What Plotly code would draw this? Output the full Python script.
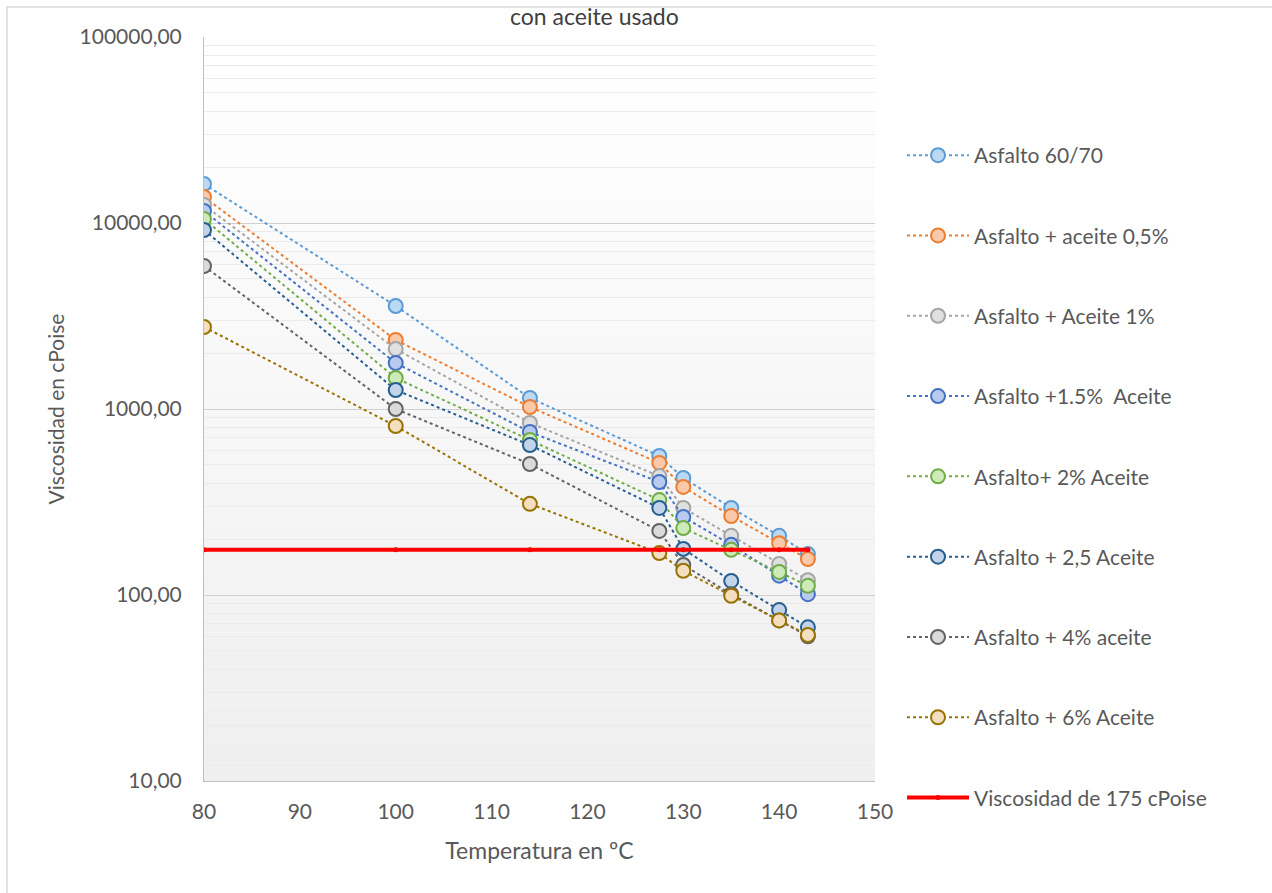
import plotly.graph_objects as go

temps = [80, 100, 114, 127.5, 130, 135, 140, 143]

series_names = [
    "Asfalto 60/70",
    "Asfalto + aceite 0,5%",
    "Asfalto + Aceite 1%",
    "Asfalto +1.5%  Aceite",
    "Asfalto+ 2% Aceite",
    "Asfalto + 2,5 Aceite",
    "Asfalto + 4% aceite",
    "Asfalto + 6% Aceite",
]

asfalto_6070 = [16200, 3580, 1146, 559, 426, 294, 208, 166]
aceite_05 = [13800, 2350, 1025, 513, 381, 266, 190, 156]
aceite_1 = [12500, 2100, 841, 436, 294, 208, 147, 120]
aceite_15 = [11600, 1767, 752, 405, 263, 186, 127, 101]
aceite_2 = [10500, 1468, 681, 324, 229, 175, 133, 112]
aceite_25 = [9170, 1265, 640, 294, 177, 119, 83, 67]
aceite_4 = [5870, 1000, 506, 221, 145, 101, 73, 60]
aceite_6 = [2760, 810, 309, 168, 135, 99, 73, 61]

limit_name = "Viscosidad de 175 cPoise"
limit_value = [175, 175, 175, 175, 175, 175, 175, 175]

all_series = [asfalto_6070, aceite_05, aceite_1, aceite_15, aceite_2, aceite_25, aceite_4, aceite_6]

line_colors = ["#5b9bd5", "#ed7d31", "#a5a5a5", "#4472c4", "#70ad47", "#255e91", "#636363", "#997300"]
fill_colors = ["#bcd9f3", "#f9c9a9", "#e0e0e0", "#b8cbef", "#cdeab8", "#c3d4ea", "#dadada", "#f3dfbf"]

FONT = "Lato"
TXT = "#595959"

fig = go.Figure()

for i, (name, vals) in enumerate(zip(series_names, all_series)):
    fig.add_trace(go.Scatter(
        x=temps, y=vals, name=name, mode="lines+markers",
        legendgroup=f"g{i}",
        line=dict(color=line_colors[i], width=2, dash="dot"),
        marker=dict(size=14, color=fill_colors[i], line=dict(color=line_colors[i], width=2)),
    ))

fig.add_trace(go.Scatter(
    x=temps, y=limit_value, name=limit_name, mode="lines+markers",
    legendgroup="g8",
    line=dict(color="#ff0000", width=4),
    marker=dict(size=5, color="#ff0000"),
))

# gradient plot background (style only)
shapes = []
nb = 40
for k in range(nb):
    t = k / (nb - 1)
    c = int(round(255 - 16 * t))
    shapes.append(dict(type="rect", xref="x domain", yref="y domain",
                       x0=0, x1=1, y0=1 - (k + 1) / nb, y1=1 - k / nb,
                       fillcolor=f"rgb({c},{c},{c})", line=dict(width=0), layer="below"))
# outer chart border (only left and top edges fall inside the picture)
shapes.append(dict(type="rect", xref="paper", yref="paper",
                   x0=(7 - 204) / 671, x1=1 + (1290 - 875) / 671,
                   y0=-(140) / 744, y1=1 + 30 / 744,
                   line=dict(color="#d9d9d9", width=1.5), fillcolor="rgba(0,0,0,0)", layer="below"))

fig.update_layout(
    width=1272, height=893,
    margin=dict(l=204, r=397, t=37, b=112),
    paper_bgcolor="white",
    plot_bgcolor="rgba(0,0,0,0)",
    separators=",.",
    font=dict(family=FONT, color=TXT, size=18),
    showlegend=True,
    legend=dict(x=1 + 27 / 671, xanchor="left", y=1 - (135 - 37) / 744, yanchor="top",
                font=dict(family=FONT, size=21, color=TXT),
                tracegroupgap=50, itemwidth=62, bgcolor="rgba(0,0,0,0)"),
    shapes=shapes,
    annotations=[dict(text="con aceite usado", xref="paper", yref="paper",
                      x=(594 - 204) / 671, y=1 + 37 / 744, xanchor="center", yanchor="top",
                      showarrow=False, font=dict(family=FONT, size=23, color="#404040"))],
)

fig.update_xaxes(
    range=[80, 150], dtick=10, tick0=80, showgrid=False, zeroline=False,
    showline=True, linecolor="#bfbfbf", linewidth=1, ticks="",
    ticklabelstandoff=12,
    tickfont=dict(family=FONT, size=21, color=TXT),
    title=dict(text="Temperatura en ºC", font=dict(family=FONT, size=23, color=TXT), standoff=20),
)
fig.update_yaxes(
    type="log", range=[1, 5], dtick=1, tickformat=".2f",
    showgrid=True, gridcolor="#d0d0d0", gridwidth=1,
    minor=dict(dtick="D1", showgrid=True, gridcolor="#ebebeb", ticks=""),
    zeroline=False, showline=True, linecolor="#bfbfbf", linewidth=1, ticks="",
    ticklabelstandoff=17,
    tickfont=dict(family=FONT, size=21, color=TXT),
    title=dict(text="Viscosidad en cPoise", font=dict(family=FONT, size=21, color=TXT), standoff=9),
)

fig.write_html("out.html")
